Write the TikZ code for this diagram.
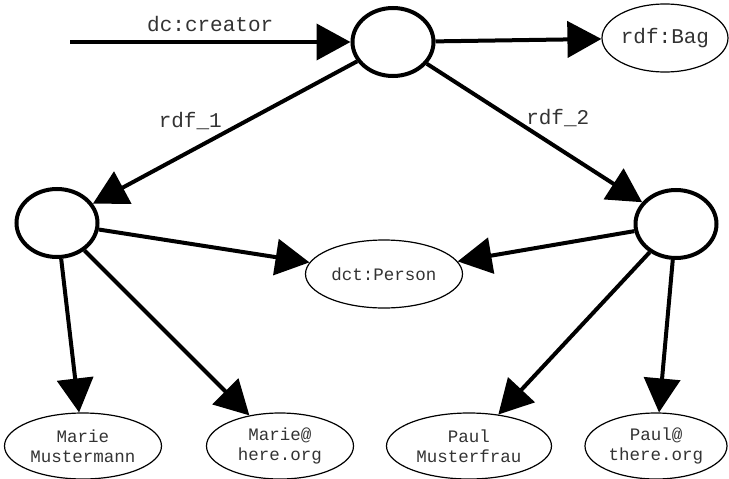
\documentclass[tikz,border=0pt]{standalone}
\usepackage{fontspec}
\setmonofont{Liberation Mono}
\usepackage{tikz}
\usetikzlibrary{arrows.meta,shapes.geometric,positioning}
\tikzset{
    %Define standard arrow tip
    >={Triangle[length=34pt,width=36pt]},
    %Define style for empty resources
    blank/.style={
           ellipse,
           draw=black, line width=4pt,
           minimum width=81pt,
           minimum height=68pt,
           inner sep=0pt},
    %Define style for named resources and literals
    literal/.style={
           ellipse,
           draw=black, line width=1.2pt,
           minimum height=66pt,
           inner sep=0pt,
           align=center,
           text=black!80,
           font=\ttfamily\fontsize{17.5}{20}\selectfont},
    % Define arrow style
    rel/.style={
           ->,
           line width=4pt},
    lbl/.style={
           text=black!80,
           font=\ttfamily\fontsize{21}{24}\selectfont}
}
\begin{document}
\begin{tikzpicture}[x=1pt,y=-1pt]
\useasboundingbox (0,0) rectangle (729,479);
\coordinate (start) at (70,42);
\node[blank] (top) at (393,42) {};
\node[literal, minimum width=126pt, minimum height=68pt,
      font=\ttfamily\fontsize{21}{24}\selectfont] (bag) at (665,38) {rdf:Bag};
\node[blank] (left) at (57,223) {};
\node[blank] (right) at (676,224) {};
\node[literal, minimum width=157pt, minimum height=68pt] (person) at (384,274) {dct:Person};
\node[literal, minimum width=157pt] (mm) at (83,446) {Marie\\Mustermann};
\node[literal, minimum width=147pt] (mh) at (280,446) {Marie@\\here.org};
\node[literal, minimum width=165pt] (pm) at (469,446) {Paul\\Musterfrau};
\node[literal, minimum width=142pt] (pt) at (656,446) {Paul@\\there.org};
 \path[rel]
    (start) edge node[lbl, above=5pt] {dc:creator} (top)
    (top) edge (bag)
    (top) edge node[lbl, pos=0.5, above left=-3pt] {rdf\_1} (left)
    (top) edge node[lbl, pos=0.46, above right=-7pt] {rdf\_2} (right)
    (left) edge (person)
    (right) edge (person)
    (left) edge (mm)
    (left) edge (mh)
    (right) edge (pm)
    (right) edge (pt);
\end{tikzpicture}
\end{document}
